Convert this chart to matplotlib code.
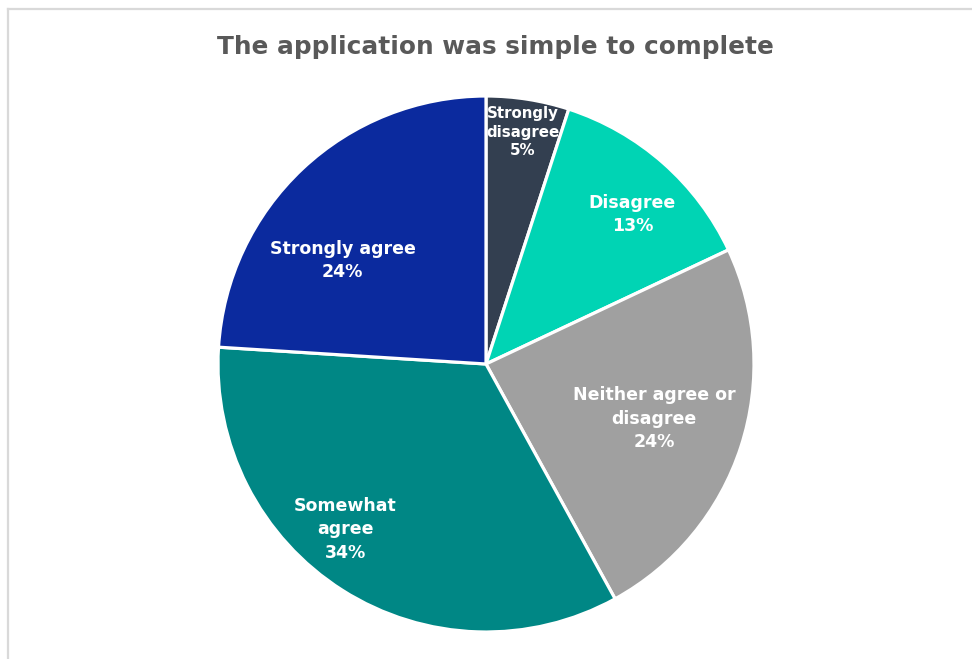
import matplotlib
matplotlib.use("Agg")
import matplotlib.pyplot as plt
from matplotlib.lines import Line2D
import numpy as np

title = "The application was simple to complete"
categories = ["Strongly\ndisagree", "Disagree", "Neither agree or\ndisagree",
              "Somewhat\nagree", "Strongly agree"]
shares = [5, 13, 24, 34, 24]
colors = ["#333F50", "#00D4B4", "#A0A0A0", "#008785", "#0B2A9E"]

# label placement: fraction of radius and angular nudge (degrees, counter-clockwise)
label_radius = [0.875, 0.78, 0.66, 0.81, 0.66]
label_nudge = [0.0, -3.0, 0.0, -8.0, 11.0]
label_size = [10.8, 12.5, 12.5, 12.5, 12.5]
label_spacing = [1.3, 1.38, 1.38, 1.38, 1.38]

W, H, DPI = 972, 659, 100
fig = plt.figure(figsize=(W / DPI, H / DPI), dpi=DPI)
fig.patch.set_facecolor("white")

# frame lines along the top and left edges
fig.add_artist(Line2D([7.5 / W, 1.0], [1 - 8.5 / H, 1 - 8.5 / H],
                      transform=fig.transFigure, color="#D9D9D9", lw=1.6))
fig.add_artist(Line2D([7.5 / W, 7.5 / W], [0.0, 1 - 8.5 / H],
                      transform=fig.transFigure, color="#D9D9D9", lw=1.6))

cx, cy, r = 486, 364, 268
ax = fig.add_axes([(cx - r) / W, 1 - (cy + r) / H, 2 * r / W, 2 * r / H])
wedges, _ = ax.pie(shares, colors=colors, startangle=90, counterclock=False,
                   wedgeprops=dict(edgecolor="white", linewidth=2.3))
ax.set_xlim(-1, 1)
ax.set_ylim(-1, 1)
ax.set_aspect("auto")
ax.axis("off")

for w, cat, val, rf, nd, fs, ls in zip(wedges, categories, shares, label_radius,
                                        label_nudge, label_size, label_spacing):
    ang = np.deg2rad((w.theta1 + w.theta2) / 2 + nd)
    ax.text(rf * np.cos(ang), rf * np.sin(ang), f"{cat}\n{val}%",
            ha="center", va="center", color="white", fontsize=fs,
            fontweight="bold", family="DejaVu Sans", linespacing=ls)

fig.text(495 / W, 1 - 47 / H, title, ha="center", va="center",
         fontsize=17.8, fontweight="bold", color="#595959", family="DejaVu Sans")

fig.savefig("out.png", dpi=DPI)
